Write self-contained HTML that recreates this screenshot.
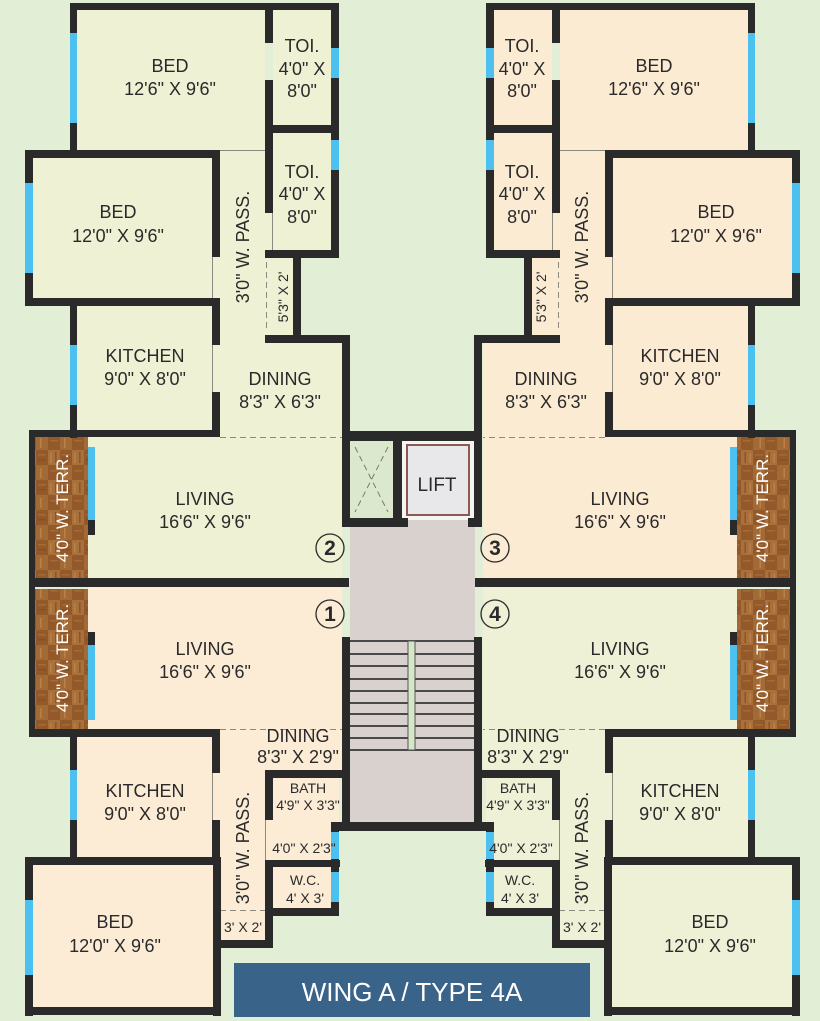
<!DOCTYPE html>
<html><head><meta charset="utf-8"><style>
html,body{margin:0;padding:0;background:#e3eed6;}
svg{display:block}
text{font-family:"Liberation Sans",sans-serif;fill:#2a2a2a;text-anchor:middle}
</style></head><body>
<svg width="820" height="1021" viewBox="0 0 820 1021" xmlns="http://www.w3.org/2000/svg">
<defs>
<pattern id="wood" width="24" height="30" patternUnits="userSpaceOnUse">
<rect width="24" height="30" fill="#94592a"/>
<rect x="0" y="0" width="12" height="15" fill="#a8703a"/>
<rect x="12" y="15" width="12" height="15" fill="#a26a35"/>
<rect x="2" y="3" width="1.5" height="10" fill="#b98149"/>
<rect x="7" y="2" width="1.5" height="11" fill="#8e5527"/>
<rect x="14" y="4" width="8" height="1.5" fill="#a36a34"/>
<rect x="14" y="9" width="8" height="1.5" fill="#87501f"/>
<rect x="16" y="18" width="1.5" height="10" fill="#b98149"/>
<rect x="2" y="20" width="8" height="1.5" fill="#a36a34"/>
</pattern>
<g id="flatTop">
 <rect x="77" y="7" width="188" height="143"/>
 <rect x="273" y="7" width="58" height="118"/>
 <rect x="273" y="133" width="58" height="117"/>
 <rect x="33" y="157" width="179" height="141"/>
 <rect x="212" y="150" width="61" height="290"/>
 <rect x="265" y="258" width="28" height="80"/>
 <rect x="77" y="305" width="135" height="130"/>
 <rect x="212" y="340" width="130" height="100"/>
 <rect x="88" y="437" width="254" height="142"/>
 <g fill="none" stroke="#8a8a80" stroke-width="1">
  <line x1="212" y1="150.5" x2="265" y2="150.5"/>
  <line x1="212.5" y1="257" x2="212.5" y2="305"/>
  <line x1="272.5" y1="213" x2="272.5" y2="250"/>
  <line x1="212.5" y1="345" x2="212.5" y2="392"/>
  <line x1="220" y1="437.5" x2="342" y2="437.5" stroke-dasharray="6,4"/>
  <line x1="266.5" y1="262" x2="266.5" y2="332" stroke-dasharray="6,4"/>
 </g>
 <rect x="35" y="437" width="53" height="142" fill="url(#wood)"/>
 <g fill="#2a2a2a">
  <rect x="70" y="3" width="269" height="7"/>
  <rect x="70" y="3" width="7" height="150"/>
  <rect x="265" y="3" width="8" height="40"/>
  <rect x="265" y="80" width="8" height="133"/>
  <rect x="331" y="3" width="8" height="255"/>
  <rect x="273" y="125" width="58" height="8"/>
  <rect x="265" y="250" width="74" height="8"/>
  <rect x="25" y="150" width="195" height="8"/>
  <rect x="25" y="150" width="8" height="155"/>
  <rect x="212" y="150" width="8" height="107"/>
  <rect x="25" y="298" width="195" height="8"/>
  <rect x="70" y="298" width="7" height="140"/>
  <rect x="212" y="305" width="8" height="40"/>
  <rect x="212" y="392" width="8" height="45"/>
  <rect x="293" y="250" width="8" height="90"/>
  <rect x="265" y="335" width="85" height="8"/>
  <rect x="29" y="430" width="191" height="7"/>
  <rect x="29" y="430" width="6" height="157"/>
  <rect x="88" y="520" width="7" height="15"/>
 </g>
 <g fill="#4cc0ee">
  <rect x="70" y="33" width="7" height="90"/>
  <rect x="331" y="48" width="8" height="30"/>
  <rect x="331" y="140" width="8" height="30"/>
  <rect x="25" y="183" width="8" height="90"/>
  <rect x="70" y="345" width="7" height="60"/>
  <rect x="88" y="447" width="7" height="73"/>
 </g>
</g>
<g id="flatBot">
 <rect x="88" y="587" width="254" height="142"/>
 <rect x="212" y="729" width="130" height="41"/>
 <rect x="212" y="737" width="55" height="210"/>
 <rect x="77" y="737" width="135" height="120"/>
 <rect x="33" y="865" width="180" height="142"/>
 <rect x="265" y="770" width="74" height="145"/>
 <g fill="none" stroke="#8a8a80" stroke-width="1">
  <line x1="220" y1="729.5" x2="342" y2="729.5" stroke-dasharray="6,4"/>
  <line x1="220" y1="910.5" x2="265" y2="910.5" stroke-dasharray="6,4"/>
  <line x1="212.5" y1="773" x2="212.5" y2="820"/>
  <line x1="213.5" y1="865" x2="213.5" y2="940"/>
  <line x1="265.5" y1="820" x2="265.5" y2="860"/>
 </g>
 <rect x="35" y="589" width="53" height="140" fill="url(#wood)"/>
 <g fill="#2a2a2a">
  <rect x="29" y="578" width="320" height="9"/>
  <rect x="29" y="578" width="6" height="159"/>
  <rect x="88" y="632" width="7" height="13"/>
  <rect x="29" y="729" width="191" height="8"/>
  <rect x="70" y="729" width="7" height="136"/>
  <rect x="212" y="737" width="8" height="36"/>
  <rect x="212" y="820" width="8" height="45"/>
  <rect x="25" y="857" width="195" height="8"/>
  <rect x="25" y="857" width="8" height="159"/>
  <rect x="213" y="857" width="8" height="159"/>
  <rect x="25" y="1007" width="196" height="8"/>
  <rect x="265" y="900" width="8" height="48"/>
  <rect x="213" y="940" width="60" height="8"/>
  <rect x="265" y="770" width="78" height="8"/>
  <rect x="265" y="770" width="8" height="50"/>
  <rect x="265" y="860" width="75" height="7"/>
  <rect x="265" y="860" width="8" height="55"/>
  <rect x="331" y="822" width="8" height="93"/>
  <rect x="265" y="908" width="74" height="8"/>
 </g>
 <g fill="#4cc0ee">
  <rect x="88" y="645" width="7" height="75"/>
  <rect x="70" y="770" width="7" height="50"/>
  <rect x="25" y="900" width="8" height="75"/>
  <rect x="331" y="832" width="8" height="27"/>
  <rect x="331" y="872" width="8" height="30"/>
 </g>
</g>
</defs>

<use href="#flatTop" fill="#eef1d4"/>
<use href="#flatTop" fill="#fcebd3" transform="translate(825,0) scale(-1,1)"/>
<use href="#flatBot" fill="#fcecd6"/>
<use href="#flatBot" fill="#eef1d6" transform="translate(825,0) scale(-1,1)"/>

<!-- core -->
<rect x="350" y="441" width="43" height="77" fill="#dbe8cd"/>
<g stroke="#7a7a70" stroke-width="1" stroke-dasharray="6,4" fill="none">
 <line x1="355" y1="447" x2="388" y2="512"/><line x1="388" y1="447" x2="355" y2="512"/>
</g>
<rect x="402" y="441" width="72" height="79" fill="#f4f4f2"/>
<rect x="407" y="445" width="62" height="70" fill="#e8e8ea" stroke="#8a5a50" stroke-width="2"/>
<rect x="350" y="520" width="125" height="305" fill="#d8d1cd"/>
<g stroke="#4a4a4a" stroke-width="2">
 <line x1="350" y1="641" x2="475" y2="641"/><line x1="350" y1="654" x2="475" y2="654"/>
 <line x1="350" y1="666" x2="475" y2="666"/><line x1="350" y1="679" x2="475" y2="679"/>
 <line x1="350" y1="691" x2="475" y2="691"/><line x1="350" y1="703" x2="475" y2="703"/>
 <line x1="350" y1="714" x2="475" y2="714"/><line x1="350" y1="726" x2="475" y2="726"/>
 <line x1="350" y1="738" x2="475" y2="738"/><line x1="350" y1="750" x2="475" y2="750"/>
</g>
<rect x="408" y="641" width="7" height="109" fill="#d6e6c8" stroke="#555" stroke-width="1"/>
<g fill="#2a2a2a">
 <rect x="342" y="431" width="140" height="10"/>
 <rect x="342" y="335" width="8" height="192"/>
 <rect x="474" y="335" width="8" height="192"/>
 <rect x="342" y="637" width="8" height="193"/>
 <rect x="474" y="637" width="8" height="193"/>
 <rect x="393" y="441" width="9" height="79"/>
 <rect x="342" y="518" width="66" height="9"/>
 <rect x="468" y="518" width="14" height="9"/>
 <rect x="335" y="822" width="158" height="9"/>
 <rect x="475" y="578" width="321" height="9"/>
</g>
<text x="437" y="491" font-size="19">LIFT</text>
<g fill="none" stroke="#2a2a2a" stroke-width="1.3">
 <circle cx="330" cy="548" r="14"/><circle cx="330" cy="614" r="14"/>
 <circle cx="495" cy="548" r="14"/><circle cx="495" cy="614" r="14"/>
</g>
<g font-size="21" font-weight="bold">
 <text x="330" y="555">2</text><text x="330" y="621">1</text>
 <text x="495" y="555">3</text><text x="495" y="621">4</text>
</g>

<!-- labels -->
<g font-size="18">
 <text x="170" y="72">BED</text><text x="170" y="95">12'6" X 9'6"</text>
 <text x="302" y="52">TOI.</text><text x="302" y="75">4'0" X</text><text x="302" y="97">8'0"</text>
 <text x="302" y="178">TOI.</text><text x="302" y="200">4'0" X</text><text x="302" y="223">8'0"</text>
 <text x="118" y="218">BED</text><text x="118" y="242">12'0" X 9'6"</text>
 <text x="145" y="362">KITCHEN</text><text x="145" y="385">9'0" X 8'0"</text>
 <text x="280" y="385">DINING</text><text x="280" y="408">8'3" X 6'3"</text>
 <text x="205" y="505">LIVING</text><text x="205" y="528">16'6" X 9'6"</text>
 <text x="205" y="655">LIVING</text><text x="205" y="678">16'6" X 9'6"</text>
 <text x="298" y="742">DINING</text><text x="298" y="763">8'3" X 2'9"</text>
 <text x="145" y="797">KITCHEN</text><text x="145" y="820">9'0" X 8'0"</text>
 <text x="115" y="928">BED</text><text x="115" y="952">12'0" X 9'6"</text>

 <text x="654" y="72">BED</text><text x="654" y="95">12'6" X 9'6"</text>
 <text x="522" y="52">TOI.</text><text x="522" y="75">4'0" X</text><text x="522" y="97">8'0"</text>
 <text x="522" y="178">TOI.</text><text x="522" y="200">4'0" X</text><text x="522" y="223">8'0"</text>
 <text x="716" y="218">BED</text><text x="716" y="242">12'0" X 9'6"</text>
 <text x="680" y="362">KITCHEN</text><text x="680" y="385">9'0" X 8'0"</text>
 <text x="546" y="385">DINING</text><text x="546" y="408">8'3" X 6'3"</text>
 <text x="620" y="505">LIVING</text><text x="620" y="528">16'6" X 9'6"</text>
 <text x="620" y="655">LIVING</text><text x="620" y="678">16'6" X 9'6"</text>
 <text x="528" y="742">DINING</text><text x="528" y="763">8'3" X 2'9"</text>
 <text x="680" y="797">KITCHEN</text><text x="680" y="820">9'0" X 8'0"</text>
 <text x="710" y="928">BED</text><text x="710" y="952">12'0" X 9'6"</text>

 <text transform="translate(249,247) rotate(-90)">3'0" W. PASS.</text>
 <text transform="translate(588,247) rotate(-90)">3'0" W. PASS.</text>
 <text transform="translate(249,848) rotate(-90)">3'0" W. PASS.</text>
 <text transform="translate(588,848) rotate(-90)">3'0" W. PASS.</text>
</g>
<g font-size="14">
 <text transform="translate(288,297) rotate(-90)">5'3" X 2'</text>
 <text transform="translate(546,297) rotate(-90)">5'3" X 2'</text>
 <text x="308" y="793">BATH</text><text x="308" y="810">4'9" X 3'3"</text>
 <text x="518" y="793">BATH</text><text x="518" y="810">4'9" X 3'3"</text>
 <text x="304" y="853">4'0" X 2'3"</text><text x="521" y="853">4'0" X 2'3"</text>
 <text x="305" y="885">W.C.</text><text x="305" y="903">4' X 3'</text>
 <text x="520" y="885">W.C.</text><text x="520" y="903">4' X 3'</text>
 <text x="243" y="932">3' X 2'</text><text x="582" y="932">3' X 2'</text>
</g>
<g font-size="17">
 <text transform="translate(68,508) rotate(-90)" style="fill:#fff">4'0" W. TERR.</text>
 <text transform="translate(68,658) rotate(-90)" style="fill:#fff">4'0" W. TERR.</text>
 <text transform="translate(768,508) rotate(-90)" style="fill:#fff">4'0" W. TERR.</text>
 <text transform="translate(768,658) rotate(-90)" style="fill:#fff">4'0" W. TERR.</text>
</g>

<rect x="234" y="963" width="356" height="54" fill="#3a6389"/>
<text x="412" y="1001" font-size="26" style="fill:#fff">WING A / TYPE 4A</text>
</svg>
</body></html>
